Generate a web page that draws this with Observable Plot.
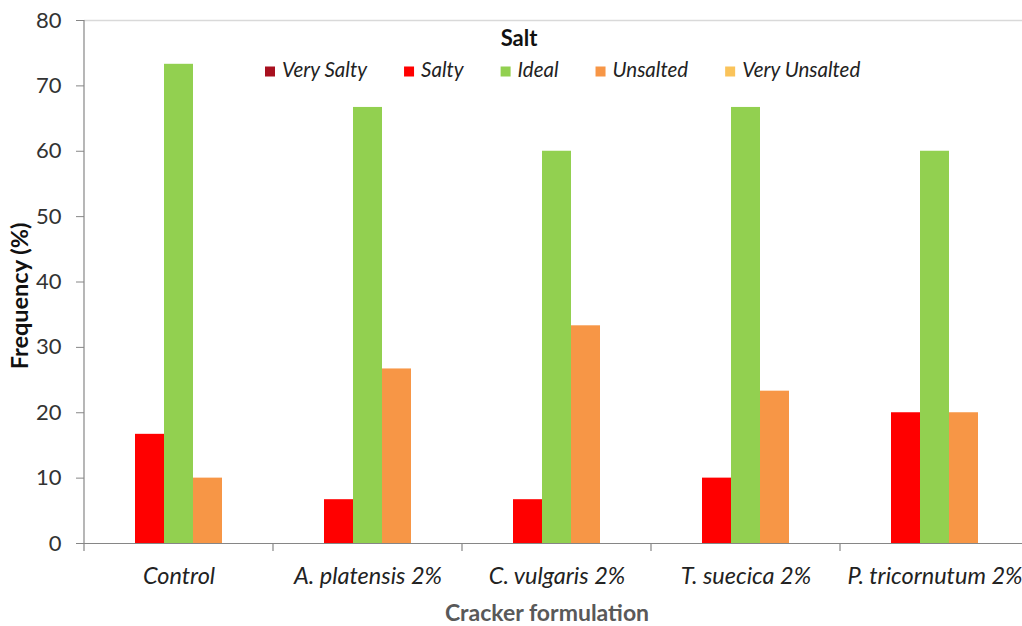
<!DOCTYPE html>
<html><head><meta charset="utf-8">
<script src="https://cdn.jsdelivr.net/npm/d3@7"></script>
<script src="https://cdn.jsdelivr.net/npm/@observablehq/plot@0.6"></script>
<style>
html,body{margin:0;padding:0;background:#fff;overflow:hidden;width:1022px;height:626px}
#chart{position:relative;width:1022px;height:626px;overflow:hidden}
#chart svg{max-width:none!important;display:block;overflow:visible}
</style></head><body><div id="chart"></div>
<script>
const categories = ["Control", "A. platensis 2%", "C. vulgaris 2%", "T. suecica 2%", "P. tricornutum 2%"];
const series = ["Very Salty", "Salty", "Ideal", "Unsalted", "Very Unsalted"];
const colors = ["#A8101F", "#FF0000", "#92D050", "#F79646", "#FAC35A"];
const verySalty = [0, 0, 0, 0, 0];
const salty = [16.7, 6.7, 6.7, 10, 20];
const ideal = [73.3, 66.7, 60, 66.7, 60];
const unsalted = [10, 26.7, 33.3, 23.3, 20];
const veryUnsalted = [0, 0, 0, 0, 0];
const yTicks = [0, 10, 20, 30, 40, 50, 60, 70, 80];
const legendTitle = "Salt";
const xTitle = "Cracker formulation";
const yTitle = "Frequency (%)";

const seriesValues = [verySalty, salty, ideal, unsalted, veryUnsalted];
const table = [];
categories.forEach((c, i) => series.forEach((s, j) => table.push({cat: c, ser: s, val: seriesValues[j][i]})));

const FONT = "Lato, 'Open Sans', sans-serif";
const W = 1030, H = 626;

const plot = Plot.plot({
  width: W, height: H,
  marginLeft: 84, marginRight: 1, marginTop: 20, marginBottom: 83,
  style: {fontFamily: FONT, background: "#fff", overflow: "visible"},
  fx: {domain: categories, padding: 0, label: null, axis: null},
  x: {type: "band", domain: series, paddingInner: 0, paddingOuter: 0.758, align: 0.5, axis: null},
  y: {domain: [0, 80], label: null},
  color: {domain: series, range: colors},
  marks: [
    Plot.ruleY([80], {stroke: "#d9d9d9", strokeWidth: 1.5}),
    Plot.barY(table, {fx: "cat", x: "ser", y: "val", fill: "ser", insetLeft: 0, insetRight: 0}),
    Plot.ruleY([0], {stroke: "#868686", strokeWidth: 1.2}),
    Plot.axisY({ticks: yTicks, tickSize: 8, tickPadding: 15, stroke: "#868686", fill: "#333", fontSize: 22, label: null, tickFormat: d => d}),
    Plot.axisFx({anchor: "bottom", tickSize: 0, tickPadding: 24, fontSize: 23.5, fontStyle: "italic", fill: "#222", label: null})
  ]
});
document.getElementById("chart").appendChild(plot);

const svg = d3.select(plot);
const fxs = plot.scale("fx");
const ys = plot.scale("y");
const fx = d3.scaleBand().domain(fxs.domain).range(fxs.range).paddingInner(0).paddingOuter(0);
const y0 = ys.apply(0), y80 = ys.apply(80);
const g = svg.append("g").attr("text-anchor", "start");
// y axis line
g.append("line").attr("x1", fxs.range[0]).attr("x2", fxs.range[0]).attr("y1", y80).attr("y2", y0 + 8)
  .attr("stroke", "#868686").attr("stroke-width", 1.2);
// category boundary ticks
categories.forEach(c => {
  const x = fx(c) + fx.bandwidth();
  g.append("line").attr("x1", x).attr("x2", x).attr("y1", y0).attr("y2", y0 + 8)
    .attr("stroke", "#868686").attr("stroke-width", 1.2);
});
// axis titles
g.append("text").attr("x", 547).attr("y", 621).attr("text-anchor", "middle")
  .attr("font-family", FONT).attr("font-weight", "bold").attr("font-size", 23).attr("fill", "#595959").text(xTitle);
g.append("text").attr("transform", "translate(28,296) rotate(-90)").attr("text-anchor", "middle")
  .attr("font-family", FONT).attr("font-weight", "bold").attr("font-size", 23.5).attr("fill", "#111").text(yTitle);
// legend
g.append("text").attr("x", 519).attr("y", 46).attr("text-anchor", "middle")
  .attr("font-family", FONT).attr("font-weight", "bold").attr("font-size", 22).attr("fill", "#111").text(legendTitle);
let lx = 265;
series.forEach((s, j) => {
  g.append("rect").attr("x", lx).attr("y", 66.5).attr("width", 10).attr("height", 10).attr("fill", colors[j]);
  const t = g.append("text").attr("x", lx + 17).attr("y", 76.5).attr("text-anchor", "start")
    .attr("font-family", FONT).attr("font-style", "italic").attr("font-size", 20.5).attr("fill", "#222").text(s);
  lx += 17 + t.node().getComputedTextLength() + 37;
});
</script>
</body></html>
